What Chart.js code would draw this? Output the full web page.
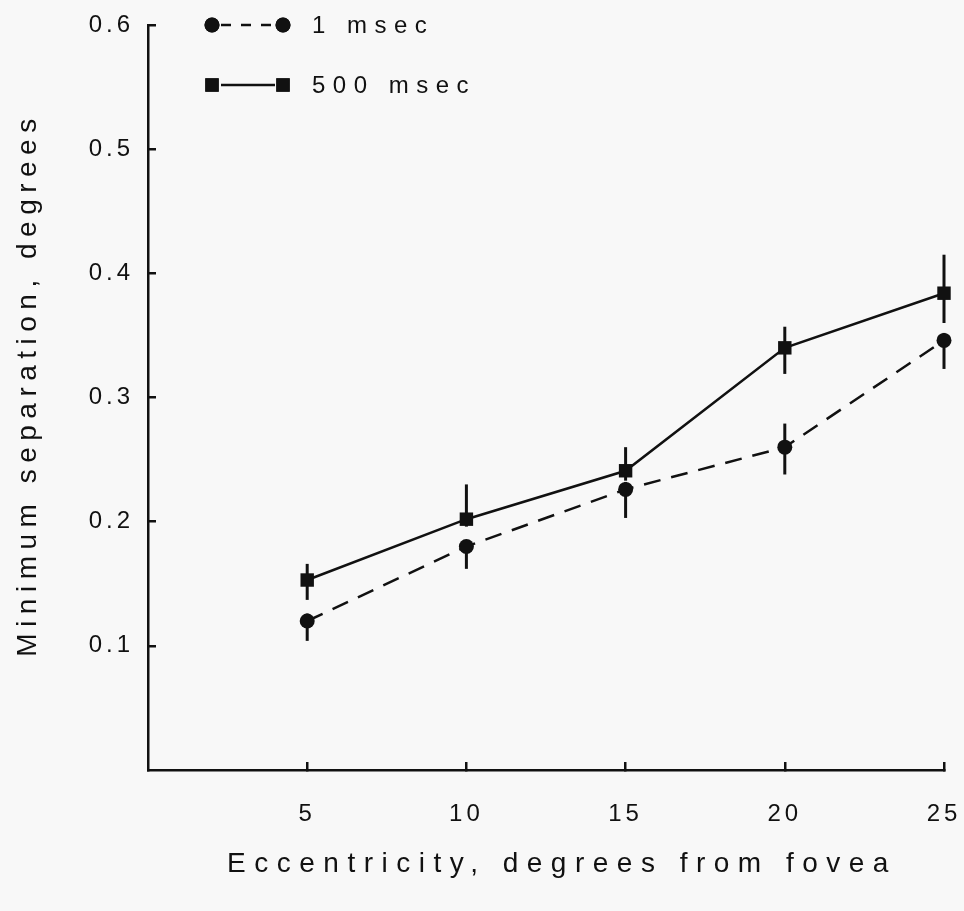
<!DOCTYPE html>
<html><head><meta charset="utf-8">
<script src="https://cdn.jsdelivr.net/npm/chart.js@4"></script>
<style>html,body{margin:0;padding:0;background:#f8f8f8;} #wrap{width:964px;height:911px;position:relative;}</style>
</head><body><div id="wrap"><canvas id="c"></canvas></div>
<script>
const eccentricity = [5, 10, 15, 20, 25];
const sep1ms = [0.120, 0.180, 0.226, 0.260, 0.346];
const sep1msLow = [0.104, 0.162, 0.203, 0.238, 0.323];
const sep1msHigh = [0.126, 0.185, 0.232, 0.279, 0.352];
const sep500ms = [0.153, 0.202, 0.241, 0.340, 0.384];
const sep500msLow = [0.137, 0.196, 0.233, 0.319, 0.360];
const sep500msHigh = [0.166, 0.230, 0.260, 0.357, 0.415];
const xTicks = [5, 10, 15, 20, 25];
const yTicks = [0.1, 0.2, 0.3, 0.4, 0.5, 0.6];
const seriesNames = ['1 msec', '500 msec'];
const xTitle = 'Eccentricity, degrees from fovea';
const yTitle = 'Minimum separation, degrees';

const FONT = '"Liberation Sans", Arial, Helvetica, sans-serif';
const INK = '#111';

const toPts = (ys) => eccentricity.map((x, i) => ({x: x, y: ys[i]}));

const errorBars = {
  id: 'errorBars',
  beforeDatasetsDraw(chart) {
    const ctx = chart.ctx, xs = chart.scales.x, ys = chart.scales.y;
    const sets = [[sep1msLow, sep1msHigh], [sep500msLow, sep500msHigh]];
    ctx.save();
    ctx.strokeStyle = INK;
    ctx.lineWidth = 3;
    ctx.setLineDash([]);
    sets.forEach(([lo, hi]) => {
      eccentricity.forEach((x, i) => {
        const px = xs.getPixelForValue(x);
        ctx.beginPath();
        ctx.moveTo(px, ys.getPixelForValue(lo[i]));
        ctx.lineTo(px, ys.getPixelForValue(hi[i]));
        ctx.stroke();
      });
    });
    ctx.restore();
  },
  afterDatasetsDraw(chart) {
    chart.ctx.letterSpacing = '4px';
  }
};

const titleStyle = {
  id: 'titleStyle',
  beforeDraw(chart) {
    const cfg = {x: {sp: '8.5px', dx: 16, dy: 0}, y: {sp: '6.5px', dx: 0, dy: -13}};
    Object.keys(cfg).forEach(id => {
      const s = chart.scales[id];
      if (s && !s.__wrapped) {
        const orig = s.drawTitle;
        s.drawTitle = function () {
          const ctx = this.ctx;
          ctx.save();
          ctx.letterSpacing = cfg[id].sp;
          ctx.translate(cfg[id].dx, cfg[id].dy);
          orig.call(this);
          ctx.restore();
        };
        s.__wrapped = true;
      }
    });
  }
};

const customLegend = {
  id: 'customLegend',
  afterDraw(chart) {
    const ctx = chart.ctx, a = chart.chartArea;
    ctx.save();
    chart.data.datasets.forEach((ds, i) => {
      const y = a.top + i * 60;
      const x1 = a.left + 64, x2 = a.left + 135;
      ctx.strokeStyle = INK;
      ctx.lineWidth = 2.5;
      ctx.setLineDash(i === 0 ? [10, 10] : []);
      ctx.beginPath();
      ctx.moveTo(x1 + 9, y);
      ctx.lineTo(x2 - 8, y);
      ctx.stroke();
      ctx.setLineDash([]);
      ctx.fillStyle = INK;
      [x1, x2].forEach(px => {
        Chart.helpers.drawPoint(ctx, {pointStyle: ds.pointStyle, radius: ds.pointRadius, rotation: 0, borderWidth: 0}, px, y);
        ctx.fill();
      });
      ctx.letterSpacing = '7.5px';
      ctx.font = '24px ' + FONT;
      ctx.textAlign = 'left';
      ctx.textBaseline = 'middle';
      ctx.fillText(ds.label, a.left + 164, y + 1);
    });
    ctx.restore();
  }
};

new Chart(document.getElementById('c'), {
  type: 'line',
  data: {
    datasets: [
      {
        label: seriesNames[0], data: toPts(sep1ms),
        borderColor: INK, backgroundColor: INK, borderWidth: 2.5, borderDash: [17, 11],
        pointStyle: 'circle', pointRadius: 7.5, pointBackgroundColor: INK, pointBorderWidth: 0,
        tension: 0, clip: false, fill: false
      },
      {
        label: seriesNames[1], data: toPts(sep500ms),
        borderColor: INK, backgroundColor: INK, borderWidth: 2.5,
        pointStyle: 'rect', pointRadius: 9.5, pointBackgroundColor: INK, pointBorderWidth: 0,
        tension: 0, clip: false, fill: false
      }
    ]
  },
  options: {
    responsive: true, maintainAspectRatio: false, animation: false,
    devicePixelRatio: 1,
    layout: {padding: {top: 25, right: 20, left: 0, bottom: 0}},
    plugins: {legend: {display: false}, tooltip: {enabled: false}},
    scales: {
      x: {
        type: 'linear', min: 0, max: 25,
        afterBuildTicks: (s) => { s.ticks = xTicks.map(v => ({value: v})); },
        afterFit: (s) => { s.height = 141; s.paddingLeft = 0; s.paddingRight = 0; },
        grid: {drawOnChartArea: false, drawTicks: true, tickLength: -8, color: INK, lineWidth: 2.5},
        border: {display: true, color: INK, width: 2.5},
        ticks: {font: {family: FONT, size: 24}, color: INK, padding: 38, maxRotation: 0, z: 1},
        title: {display: true, text: xTitle, font: {family: FONT, size: 28}, color: INK, padding: {top: 0, bottom: 30}}
      },
      y: {
        type: 'linear', min: 0, max: 0.6,
        afterBuildTicks: (s) => { s.ticks = yTicks.map(v => ({value: v})); },
        afterFit: (s) => { s.width = 148; s.paddingTop = 0; s.paddingBottom = 0; },
        grid: {drawOnChartArea: false, drawTicks: true, tickLength: -8, color: INK, lineWidth: 2.5},
        border: {display: true, color: INK, width: 2.5},
        ticks: {font: {family: FONT, size: 24}, color: INK, padding: 22, z: 1, callback: (v) => v.toFixed(1)},
        title: {display: true, text: yTitle, font: {family: FONT, size: 28}, color: INK, padding: {top: 11, bottom: 0}}
      }
    }
  },
  plugins: [titleStyle, errorBars, customLegend]
});
</script></body></html>
